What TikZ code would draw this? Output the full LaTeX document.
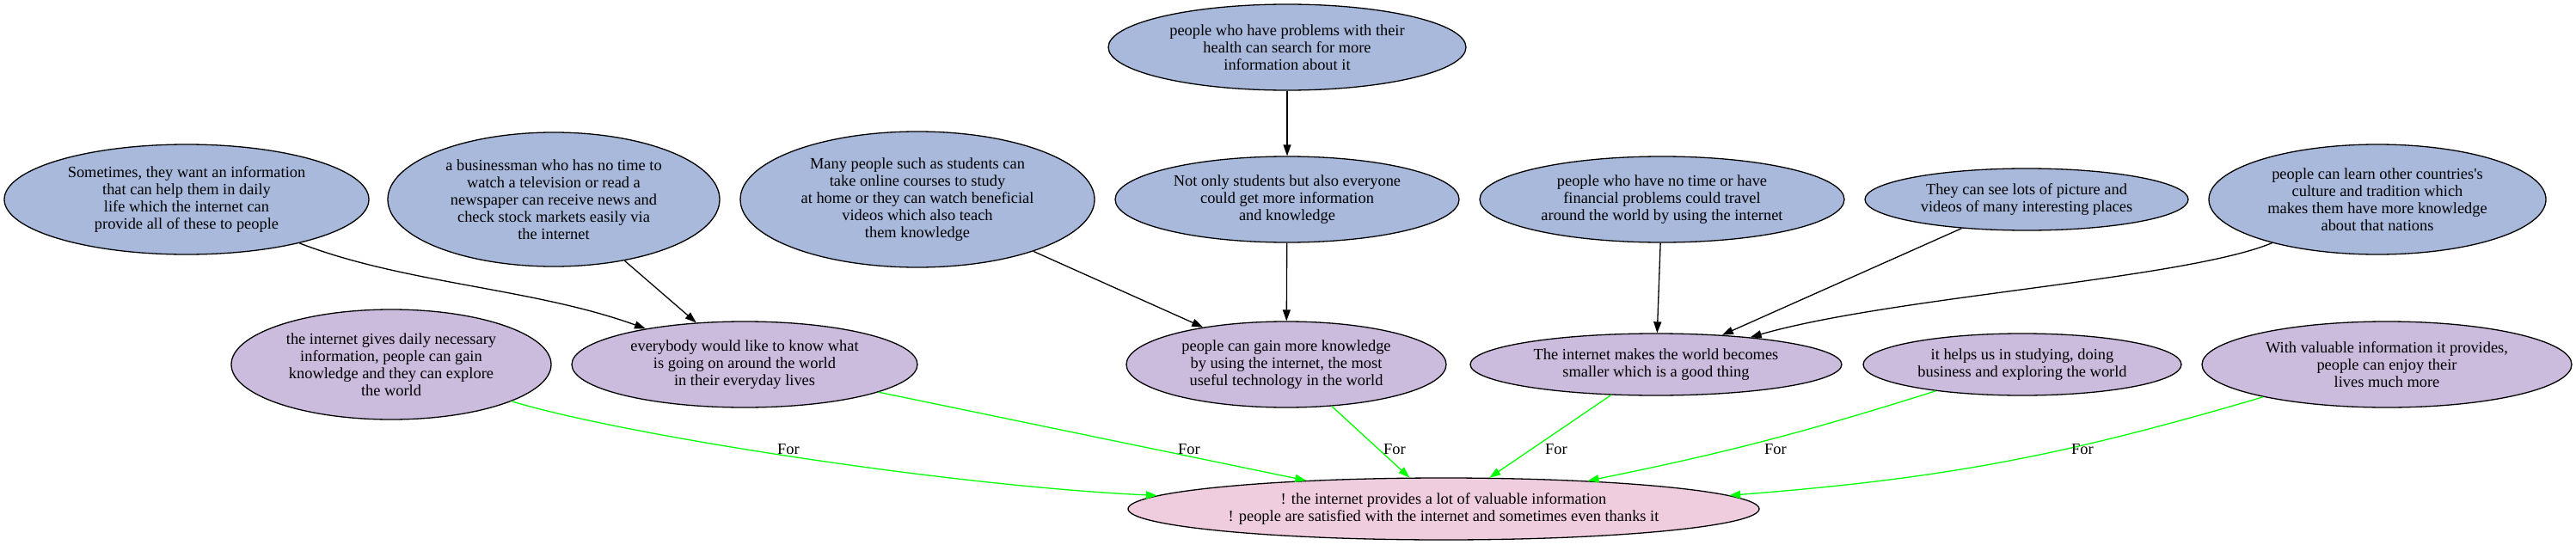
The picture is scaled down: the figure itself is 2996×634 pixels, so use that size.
\documentclass[tikz,border=0pt]{standalone}
\usepackage{fontspec}
\setmainfont{Liberation Serif}
\usetikzlibrary{shapes.geometric, arrows.meta}

\definecolor{premisefill}{HTML}{A9B9DC}
\definecolor{reasonfill}{HTML}{CBBBDD}
\definecolor{claimfill}{HTML}{EFCDDF}
\definecolor{forgreen}{HTML}{00FF00}

\tikzset{
  arg/.style={ellipse, draw=black, line width=1.3pt, inner sep=0pt, align=center,
              font=\fontsize{18.4}{20}\selectfont},
  premise/.style={arg, fill=premisefill},
  reason/.style={arg, fill=reasonfill},
  claim/.style={arg, fill=claimfill},
  sz/.style 2 args={minimum width=#1pt, minimum height=#2pt},
  support/.style={line width=1.3pt, black, -{Triangle[length=13pt,width=9pt]}},
  forarrow/.style={line width=1.3pt, forgreen, -{Triangle[length=13pt,width=9pt]}},
  forlabel/.style={font=\fontsize{18.4}{20}\selectfont, inner sep=0pt}
}

\begin{document}
\begin{tikzpicture}[x=1pt, y=-1pt]
    \useasboundingbox (0,0) rectangle (2996,634);

    \node[premise, sz={416}{100}] (health)    at (1497, 55)  {people who have problems with their\\health can search for more\\information about it};

    \node[premise, sz={424}{128}] (sometimes) at (217, 232)  {Sometimes, they want an information\\that can help them in daily\\life which the internet can\\provide all of these to people};
    \node[premise, sz={386}{156}] (business)  at (644, 232)  {a businessman who has no time to\\watch a television or read a\\newspaper can receive news and\\check stock markets easily via\\the internet};
    \node[premise, sz={412}{158}] (many)      at (1067, 232) {Many people such as students can\\take online courses to study\\at home or they can watch beneficial\\videos which also teach\\them knowledge};
    \node[premise, sz={400}{100}] (notonly)   at (1497, 232) {Not only students but also everyone\\could get more information\\and knowledge};
    \node[premise, sz={424}{100}] (notime)    at (1933, 232) {people who have no time or have\\financial problems could travel\\around the world by using the internet};
    \node[premise, sz={376}{72}]  (see)       at (2357, 232) {They can see lots of picture and\\videos of many interesting places};
    \node[premise, sz={392}{128}] (learn)     at (2765, 232) {people can learn other countries\textquotesingle s\\culture and tradition which\\makes them have more knowledge\\about that nations};

    \node[reason, sz={372}{128}]  (daily)     at (455, 424)  {the internet gives daily necessary\\information, people can gain\\knowledge and they can explore\\the world};
    \node[reason, sz={402}{100}]  (everybody) at (866, 424)  {everybody would like to know what\\is going on around the world\\in their everyday lives};
    \node[reason, sz={372}{100}]  (gain)      at (1496, 424) {people can gain more knowledge\\by using the internet, the most\\useful technology in the world};
    \node[reason, sz={432}{72}]   (smaller)   at (1926, 424) {The internet makes the world becomes\\smaller which is a good thing};
    \node[reason, sz={370}{72}]   (helps)     at (2352, 424) {it helps us in studying, doing\\business and exploring the world};
    \node[reason, sz={430}{100}]  (valuable)  at (2776, 424) {With valuable information it provides,\\people can enjoy their\\lives much more};

    \node[claim, sz={734}{72}]    (main)      at (1679, 592) {! the internet provides a lot of valuable information\\! people are satisfied with the internet and sometimes even thanks it};

    \draw[support] (sometimes) .. controls (470,330) and (620,335) .. (everybody);
    \draw[support] (business) -- (everybody);
    \draw[support] (many) -- (gain);
    \draw[support] (health) -- (notonly);
    \draw[support] (notonly) -- (gain);
    \draw[support] (notime) -- (smaller);
    \draw[support] (see) -- (smaller);
    \draw[support] (learn) .. controls (2540,325) and (2200,345) .. (smaller);

    \draw[forarrow] (daily) .. controls (720,505) and (1100,565) .. (main);
    \draw[forarrow] (everybody) -- (main);
    \draw[forarrow] (gain) -- (main);
    \draw[forarrow] (smaller) -- (main);
    \draw[forarrow] (helps) to[bend left=3] (main);
    \draw[forarrow] (valuable) to[bend left=6] (main);

    \node[forlabel] (for1) at (917, 523)  {For};
    \node[forlabel] (for2) at (1383, 523) {For};
    \node[forlabel] (for3) at (1622, 523) {For};
    \node[forlabel] (for4) at (1810, 523) {For};
    \node[forlabel] (for5) at (2065, 523) {For};
    \node[forlabel] (for6) at (2422, 523) {For};
\end{tikzpicture}
\end{document}
